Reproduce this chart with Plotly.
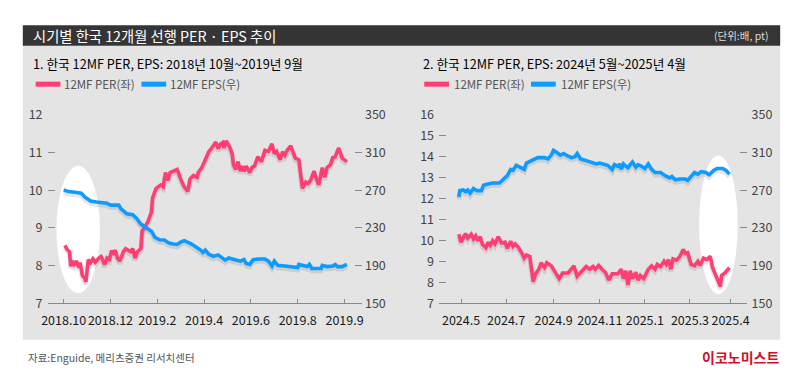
import plotly.graph_objects as go

# ---------------- data ----------------
# Left panel: Oct 2018 ~ Sep 2019 (x = trading-day index)
left_tick_pos = [0, 40, 80, 120, 160, 200, 240]
left_tick_text = ["2018.10", "2018.12", "2019.2", "2019.4", "2019.6", "2019.8", "2019.9"]

per1_t = [1, 3, 5, 6, 8, 9, 11, 13, 14, 16, 18, 19, 21, 23, 25, 27, 30, 32, 35, 37,
          39, 41, 42, 44, 46, 48, 51, 53, 55, 57, 59, 61, 63, 66, 67, 69, 72, 75, 76, 79,
          83, 85, 87, 89, 91, 94, 97, 100, 103, 106, 108, 111, 114, 115, 118, 121, 124, 127, 130, 132,
          134, 136, 137, 139, 142, 144, 145, 147, 149, 151, 153, 154, 156, 159, 161, 163, 166, 169, 172, 175,
          176, 178, 180, 182, 185, 187, 189, 191, 194, 198, 201, 204, 207, 209, 211, 214, 216, 218, 221, 223,
          225, 228, 230, 232, 235, 238, 242]
per1_v = [8.54, 8.43, 8.37, 7.99, 8.08, 8.03, 8.12, 7.95, 8.08, 7.74, 7.66, 7.57, 8.16, 8.08, 8.18, 8.09, 8.20, 8.24, 8.03, 8.20,
          8.16, 8.40, 8.29, 8.41, 8.20, 8.12, 8.37, 8.45, 8.41, 8.37, 8.45, 8.20, 8.37, 8.45, 8.92, 9.00, 9.17, 9.42, 9.80, 10.05,
          10.14, 10.09, 10.47, 10.26, 10.47, 10.51, 10.55, 10.30, 10.09, 9.97, 10.30, 10.39, 10.34, 10.47, 10.60, 10.81, 11.02, 11.14, 11.28, 11.10,
          11.23, 11.27, 11.12, 11.31, 11.14, 10.97, 10.68, 10.55, 10.76, 10.51, 10.64, 10.50, 10.64, 10.47, 10.61, 10.64, 10.89, 10.76, 11.06, 11.03,
          11.10, 11.23, 10.97, 11.03, 10.81, 11.02, 10.93, 11.06, 11.18, 10.85, 10.81, 10.05, 10.22, 10.18, 10.26, 10.51, 10.30, 10.14, 10.60, 10.34,
          10.60, 10.68, 10.87, 10.89, 11.12, 10.85, 10.76]

eps1_t = [0, 4, 10, 15, 18, 23, 28, 37, 40, 47, 49, 54, 59, 62, 66, 70, 75, 78, 82, 86,
          90, 94, 97, 100, 103, 109, 114, 117, 119, 121, 124, 128, 132, 135, 138, 141, 145, 148, 151, 154,
          156, 159, 162, 166, 172, 175, 178, 180, 183, 189, 194, 200, 201, 206, 208, 210, 212, 217, 220, 221,
          225, 230, 232, 234, 238, 242]
eps1_v = [270.4, 268.6, 267.9, 266.9, 262.9, 258.6, 257.6, 256.2, 254.2, 254.2, 250.2, 245.1, 244.1, 240.7, 234.1, 230.6, 226.6, 220.0, 217.5, 217.2,
          213.9, 213.0, 212.5, 214.9, 216.5, 213.2, 209.2, 206.5, 204.0, 206.5, 202.1, 199.8, 201.4, 198.1, 195.8, 198.1, 197.1, 196.5, 194.8, 196.4,
          192.3, 191.3, 196.4, 197.1, 197.1, 194.8, 189.7, 194.8, 190.3, 189.7, 189.0, 188.0, 191.3, 190.3, 189.0, 191.3, 187.0, 187.0, 187.0, 190.3,
          189.0, 189.7, 191.3, 189.0, 189.0, 191.3]

# Right panel: May 2024 ~ Apr 2025
right_tick_pos = [2, 42, 84, 125, 165, 205, 241]
right_tick_text = ["2024.5", "2024.7", "2024.9", "2024.11", "2025.1", "2025.3", "2025.4"]

per2_t = [0, 2, 4, 6, 8, 11, 13, 15, 17, 19, 21, 24, 26, 28, 30, 32, 35, 38, 41, 43,
          46, 48, 50, 53, 56, 58, 60, 63, 66, 68, 71, 73, 76, 78, 82, 86, 89, 92, 97, 102,
          105, 108, 113, 116, 119, 121, 124, 127, 130, 133, 136, 141, 144, 146, 148, 150, 152, 154, 157, 159,
          161, 164, 168, 171, 174, 176, 179, 182, 184, 186, 188, 190, 193, 196, 199, 201, 203, 206, 209, 212,
          214, 217, 220, 223, 225, 228, 232, 233, 236, 240]
per2_v = [10.30, 9.92, 10.15, 10.33, 10.12, 10.30, 10.07, 10.22, 9.99, 10.18, 9.81, 9.66, 9.92, 9.77, 9.99, 9.84, 10.18, 9.88, 9.92, 9.62,
          9.97, 9.72, 9.84, 9.66, 9.39, 9.16, 9.31, 9.24, 8.03, 8.41, 8.63, 8.94, 8.71, 8.94, 8.79, 8.41, 8.18, 8.45, 8.45, 8.79,
          8.30, 8.48, 8.76, 8.63, 8.76, 8.63, 8.81, 8.63, 8.48, 8.11, 8.41, 8.41, 8.63, 8.18, 8.56, 7.88, 8.56, 8.18, 8.48, 8.11,
          8.33, 8.18, 8.63, 8.79, 8.63, 8.86, 8.76, 9.01, 8.86, 9.09, 8.63, 9.12, 9.06, 9.24, 9.57, 9.39, 9.42, 8.86, 8.79, 9.01,
          8.81, 9.16, 9.09, 9.24, 8.71, 8.33, 7.80, 8.33, 8.45, 8.71]

eps2_t = [0, 1, 4, 6, 8, 10, 13, 16, 20, 22, 25, 30, 36, 40, 43, 46, 48, 51, 55, 58,
          60, 63, 66, 70, 76, 79, 82, 84, 87, 90, 93, 96, 100, 103, 105, 108, 111, 116, 122, 125,
          129, 132, 136, 138, 141, 143, 144, 146, 148, 150, 152, 154, 157, 159, 162, 165, 168, 171, 174, 179,
          183, 187, 189, 192, 196, 201, 203, 206, 209, 212, 215, 219, 222, 226, 229, 234, 237, 240]
eps2_v = [262.9, 269.6, 270.3, 268.6, 270.3, 266.9, 272.0, 269.6, 269.6, 275.4, 276.4, 277.7, 277.7, 282.0, 285.5, 292.1, 291.1, 296.5, 294.5, 292.1,
          298.9, 300.6, 303.2, 304.6, 304.6, 303.2, 307.3, 312.3, 310.0, 307.3, 309.0, 306.6, 304.6, 305.6, 309.0, 303.2, 302.2, 300.0, 297.9, 298.9,
          297.2, 296.5, 292.1, 297.2, 295.5, 297.9, 292.1, 297.9, 295.5, 293.8, 297.2, 300.0, 294.5, 297.2, 295.5, 293.1, 297.9, 292.1, 288.8, 288.8,
          285.5, 283.1, 284.5, 281.0, 282.0, 282.0, 280.4, 284.5, 288.8, 287.1, 289.8, 288.8, 286.5, 291.1, 293.1, 293.1, 291.1, 287.1]

per_left_range = [7, 12]
per_right_range = [7, 16]
eps_range = [150, 350]

# ---------------- style ----------------
W, H = 800, 381
PINK = "#ff3f74"
BLUE = "#0c9cff"
SHADOW = "rgba(40,40,40,0.12)"
PANEL = "#e4e4e4"
BAR = "#353535"
AXC = "#8a8a8a"
FONT = "Noto Sans CJK KR, sans-serif"

def px_x(p):
    return p / W

def px_y(p):
    return 1 - p / H

PLOT_TOP, PLOT_BOT = 109.3, 307.7
ydom = [px_y(PLOT_BOT), px_y(PLOT_TOP)]
SHADOW_PX = 2.5


def shifted(r):
    d = SHADOW_PX * (r[1] - r[0]) / (PLOT_BOT - PLOT_TOP)
    return [r[0] + d, r[1] + d]


fig = go.Figure()

panels = [
    ("x", ["y", "y2", "y3", "y4"], per1_t, per1_v, eps1_t, eps1_v),
    ("x2", ["y5", "y6", "y7", "y8"], per2_t, per2_v, eps2_t, eps2_v),
]
for xa, ys, pt, pv, et, ev in panels:
    fig.add_trace(go.Scatter(x=pt, y=pv, xaxis=xa, yaxis=ys[0], mode="lines",
                             line=dict(color=SHADOW, width=5), hoverinfo="skip", showlegend=False))
    fig.add_trace(go.Scatter(x=et, y=ev, xaxis=xa, yaxis=ys[1], mode="lines",
                             line=dict(color=SHADOW, width=5), hoverinfo="skip", showlegend=False))
    fig.add_trace(go.Scatter(x=pt, y=pv, xaxis=xa, yaxis=ys[2], mode="lines",
                             line=dict(color=PINK, width=3.6), name="12MF PER(좌)", showlegend=False))
    fig.add_trace(go.Scatter(x=et, y=ev, xaxis=xa, yaxis=ys[3], mode="lines",
                             line=dict(color=BLUE, width=3.6), name="12MF EPS(우)", showlegend=False))

xcommon = dict(ticks="inside", ticklen=4, tickcolor=AXC, tickwidth=1, showline=True,
               linecolor=AXC, linewidth=1, showgrid=False, zeroline=False, tickangle=0,
               tickfont=dict(family=FONT, size=12.5, color="#1a1a1a"), ticklabelstandoff=6)
ycommon = dict(ticks="inside", ticklen=7, tickcolor=AXC, tickwidth=1, showline=False,
               showgrid=False, zeroline=False, tickfont=dict(family=FONT, size=12.5, color="#444"))

fig.update_layout(
    width=W, height=H,
    margin=dict(l=0, r=0, t=0, b=0),
    paper_bgcolor="white",
    plot_bgcolor="rgba(0,0,0,0)",
    showlegend=False,
    xaxis=dict(domain=[px_x(42), px_x(360)], anchor="y", range=[-13.8, 254.9],
               tickvals=left_tick_pos, ticktext=left_tick_text, **xcommon),
    yaxis=dict(domain=ydom, anchor="x", range=shifted(per_left_range), visible=False),
    yaxis2=dict(overlaying="y", anchor="x", range=shifted(eps_range), visible=False),
    yaxis3=dict(overlaying="y", anchor="x", side="left", range=per_left_range,
                tickvals=list(range(7, 13)), ticklabelstandoff=4, **ycommon),
    yaxis4=dict(overlaying="y", anchor="x", side="right", range=eps_range,
                tickvals=[150, 190, 230, 270, 310, 350], ticklabelstandoff=2, **ycommon),
    xaxis2=dict(domain=[px_x(438), px_x(749)], anchor="y5", range=[-17.5, 255.2],
                tickvals=right_tick_pos, ticktext=right_tick_text, **xcommon),
    yaxis5=dict(domain=ydom, anchor="x2", range=shifted(per_right_range), visible=False),
    yaxis6=dict(overlaying="y5", anchor="x2", range=shifted(eps_range), visible=False),
    yaxis7=dict(overlaying="y5", anchor="x2", side="left", range=per_right_range,
                tickvals=list(range(7, 17)), ticklabelstandoff=4, **ycommon),
    yaxis8=dict(overlaying="y5", anchor="x2", side="right", range=eps_range,
                tickvals=[150, 190, 230, 270, 310, 350], ticklabelstandoff=4, **ycommon),
)

shapes = [
    dict(type="rect", xref="paper", yref="paper", x0=px_x(17), x1=px_x(783), y0=px_y(346), y1=px_y(36.7),
         fillcolor=PANEL, line=dict(width=0), layer="below"),
    dict(type="rect", xref="paper", yref="paper", x0=px_x(17), x1=px_x(783), y0=px_y(36.7), y1=px_y(15),
         fillcolor=BAR, line=dict(width=0), layer="below"),
    dict(type="circle", xref="paper", yref="paper", x0=px_x(51), x1=px_x(95), y0=px_y(297), y1=px_y(163),
         fillcolor="white", line=dict(width=0), layer="below"),
    dict(type="circle", xref="paper", yref="paper", x0=px_x(701), x1=px_x(740), y0=px_y(298), y1=px_y(152),
         fillcolor="white", line=dict(width=0), layer="below"),
]
for x0, col in [(30, PINK), (137, BLUE), (423, PINK), (531, BLUE)]:
    shapes.append(dict(type="line", xref="paper", yref="paper", x0=px_x(x0), x1=px_x(x0 + 25),
                       y0=px_y(77), y1=px_y(77), line=dict(color=col, width=5)))
fig.update_layout(shapes=shapes)

ann = []
def text(x, y, s, size, color, anchor="left"):
    ann.append(dict(xref="paper", yref="paper", x=px_x(x), y=px_y(y), text=s, showarrow=False,
                    xanchor=anchor, yanchor="middle", font=dict(family=FONT, size=size, color=color)))

text(25, 26, "시기별 한국 12개월 선행 PER · EPS 추이", 14.3, "white")
text(774, 26, "(단위:배, pt)", 10.5, "#dddddd", anchor="right")
text(25, 55, "1. 한국 12MF PER, EPS: 2018년 10월~2019년 9월", 12.7, "#000")
text(420, 55, "2. 한국 12MF PER, EPS: 2024년 5월~2025년 4월", 12.7, "#000")
for x, s in [(57, "12MF PER(좌)"), (164, "12MF EPS(우)"), (451, "12MF PER(좌)"), (559, "12MF EPS(우)")]:
    text(x, 77, s, 11.5, "#555")
text(20, 365, "자료:Enguide, 메리츠증권 리서치센터", 10.5, "#555")
ann.append(dict(xref="paper", yref="paper", x=px_x(784), y=px_y(364), text="<b>이코노미스트</b>",
                showarrow=False, xanchor="right", yanchor="middle",
                font=dict(family=FONT, size=14, color="#d0112b")))
fig.update_layout(annotations=ann)

fig.write_html("out.html", config={"displayModeBar": False},
               post_script="document.body.style.margin='0';document.body.style.overflow='hidden';")
